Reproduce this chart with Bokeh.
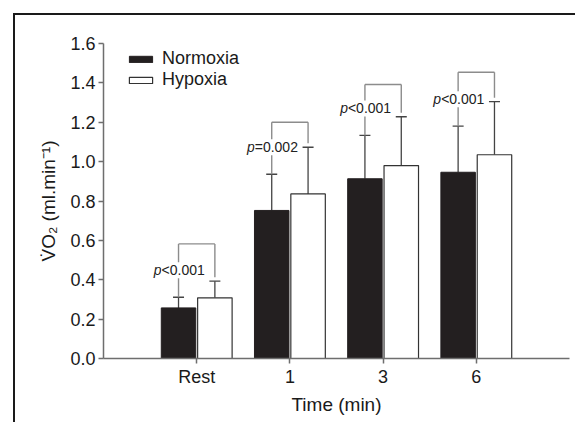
import numpy as np
from bokeh.plotting import figure
from bokeh.models import (ColumnDataSource, Whisker, TeeHead, FixedTicker,
                          NumeralTickFormatter, Range1d)
from bokeh.core.properties import value
from bokeh.embed import file_html
from bokeh.resources import INLINE

# ---- data ----
categories = ["Rest", "1", "3", "6"]
normoxia = [0.257, 0.752, 0.913, 0.946]
normoxia_sd = [0.054, 0.184, 0.220, 0.234]
hypoxia = [0.308, 0.836, 0.980, 1.035]
hypoxia_sd = [0.085, 0.237, 0.248, 0.270]
p_labels = ["<0.001", "=0.002", "<0.001", "<0.001"]
bracket_y = [0.582, 1.200, 1.392, 1.454]

FONT = "Liberation Sans"
DARK = "#231f20"
GRAY = "#6e6e6e"

idx = np.arange(len(categories))
off = 0.195
bw = 0.37
xn = idx - off
xh = idx + off
n_top = np.array(normoxia) + np.array(normoxia_sd)
h_top = np.array(hypoxia) + np.array(hypoxia_sd)

p = figure(width=562, height=409, output_backend="svg", toolbar_location=None,
           x_range=Range1d(-1.0, 4.0), y_range=Range1d(0, 1.6),
           min_border_left=88, min_border_right=8, min_border_top=28,
           min_border_bottom=66)
p.styles = {"border-top": "2px solid #1a1a1a", "border-left": "2px solid #1a1a1a"}
p.margin = (13, 0, 0, 13)
p.outline_line_color = None
p.xgrid.visible = False
p.ygrid.visible = False
p.background_fill_color = "white"
p.border_fill_color = "white"

src_n = ColumnDataSource(dict(x=xn, top=normoxia, lower=normoxia, upper=n_top))
src_h = ColumnDataSource(dict(x=xh, top=hypoxia, lower=hypoxia, upper=h_top))

# error bars (upward only)
for src in (src_n, src_h):
    w = Whisker(source=src, base="x", lower="lower", upper="upper",
                upper_head=TeeHead(size=11, line_color="#444", line_width=1.3),
                lower_head=None, line_color="#444", line_width=1.3, level="underlay")
    p.add_layout(w)

p.vbar(x="x", top="top", width=bw, source=src_n, fill_color=DARK,
       line_color=DARK, line_width=1, legend_label="Normoxia")
p.vbar(x="x", top="top", width=bw, source=src_h, fill_color="white",
       line_color="#333333", line_width=1.2, legend_label="Hypoxia")

# significance brackets
by = np.array(bracket_y)
bc = "#8c8c8c"
p.segment(x0=xn, y0=by, x1=xh, y1=by, line_color=bc, line_width=1.4)
p.segment(x0=xn, y0=by, x1=xn, y1=n_top, line_color=bc, line_width=1.4)
p.segment(x0=xh, y0=by, x1=xh, y1=h_top + 0.02, line_color=bc, line_width=1.4)

p.text(x=xn, y=n_top, text=["p"] * 4, x_offset=-17, y_offset=-27,
       text_align="right", text_baseline="middle", text_font=value(FONT),
       text_font_style="italic", text_font_size="14px", text_color="#222",
       background_fill_color="white")
p.text(x=xn, y=n_top, text=p_labels, x_offset=-17, y_offset=-27,
       text_align="left", text_baseline="middle", text_font=value(FONT),
       text_font_size="14px", text_color="#222", background_fill_color="white")

# axes
xa = p.xaxis[0]
xa.ticker = FixedTicker(ticks=list(idx))
xa.major_label_overrides = {int(i): c for i, c in zip(idx, categories)}
xa.axis_label = "Time (min)"
ya = p.yaxis[0]
ya.ticker = FixedTicker(ticks=[0.0, 0.2, 0.4, 0.6, 0.8, 1.0, 1.2, 1.4, 1.6])
ya.formatter = NumeralTickFormatter(format="0.0")
ya.axis_label = "V\u0307O\u2082 (ml.min\u207b\u00b9)"
for ax in (xa, ya):
    ax.axis_line_color = GRAY
    ax.axis_line_width = 1.5
    ax.major_tick_line_color = GRAY
    ax.major_tick_line_width = 1.5
    ax.major_tick_out = 5
    ax.major_tick_in = 0
    ax.minor_tick_line_color = None
    ax.major_label_text_font = FONT
    ax.major_label_text_font_size = "18px"
    ax.major_label_text_color = "#1a1a1a"
    ax.axis_label_text_font = FONT
    ax.axis_label_text_font_size = "19px"
    ax.axis_label_text_font_style = "normal"
    ax.axis_label_text_color = "#1a1a1a"
xa.major_label_standoff = 3
xa.axis_label_standoff = 4
ya.major_label_standoff = 3
ya.axis_label_standoff = 8

lg = p.legend[0]
lg.location = (23, 268)
lg.border_line_color = None
lg.background_fill_alpha = 0
lg.padding = 0
lg.margin = 0
lg.spacing = 0
lg.glyph_width = 29
lg.glyph_height = 8
lg.label_height = 17
lg.label_standoff = 7
lg.label_text_font = FONT
lg.label_text_font_size = "18px"
lg.label_text_color = "#1a1a1a"
lg.label_text_baseline = "middle"

open("out.html", "w").write(file_html(p, INLINE))
